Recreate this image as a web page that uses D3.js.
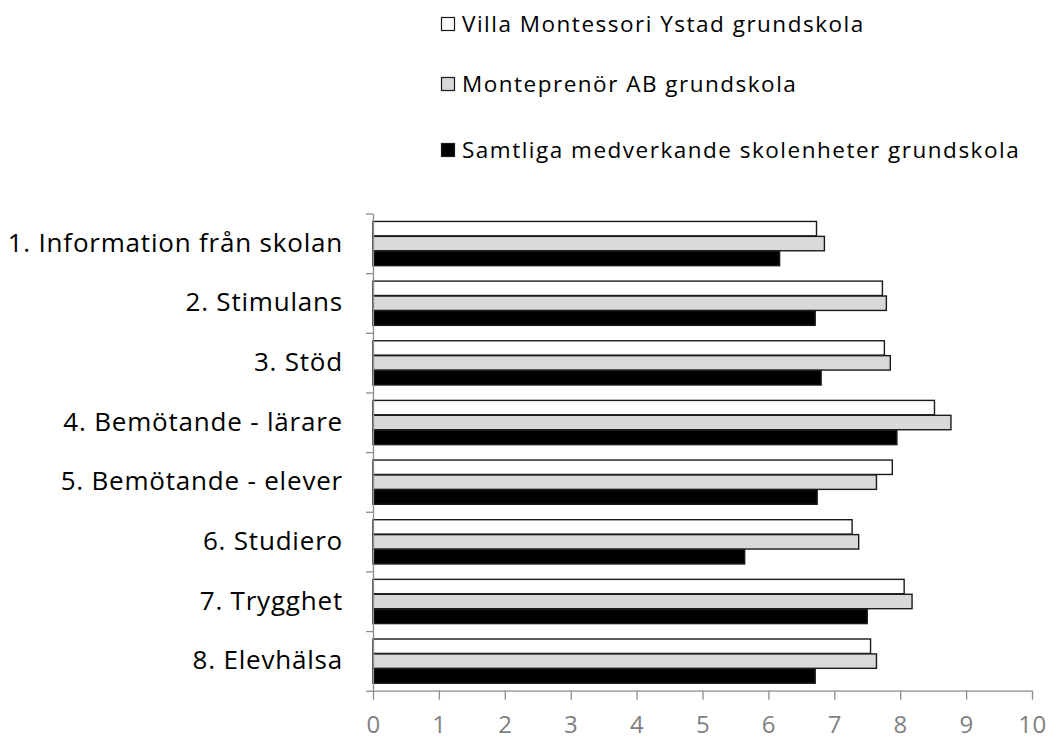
<!DOCTYPE html>
<html>
<head>
<meta charset="utf-8">
<script src="https://cdn.jsdelivr.net/npm/d3@7"></script>
<style>
  body { margin: 0; background: #fff; }
  text { font-family: 'Open Sans', sans-serif; }
</style>
</head>
<body>
<div class="canvas"></div>
<script>
const categories = ['1. Information från skolan', '2. Stimulans', '3. Stöd', '4. Bemötande - lärare',
  '5. Bemötande - elever', '6. Studiero', '7. Trygghet', '8. Elevhälsa']
const seriesNames = ['Villa Montessori Ystad grundskola', 'Monteprenör AB grundskola',
  'Samtliga medverkande skolenheter grundskola']
const villa = [6.73, 7.73, 7.76, 8.52, 7.88, 7.27, 8.06, 7.55]
const monteprenor = [6.85, 7.79, 7.85, 8.77, 7.64, 7.37, 8.18, 7.64]
const samtliga = [6.17, 6.71, 6.80, 7.95, 6.74, 5.64, 7.50, 6.71]
const xTicks = [0, 1, 2, 3, 4, 5, 6, 7, 8, 9, 10]

const seriesValues = [villa, monteprenor, samtliga]
const fills = ['#ffffff', '#d9d9d9', '#000000']
const font = "'Open Sans', sans-serif"

const svg = d3.select('.canvas').append('svg').attr('width', 1061).attr('height', 741)

const margin = {top: 213.5, right: 29, bottom: 50.3, left: 373}
const graphWidth = 1061 - margin.left - margin.right
const graphHeight = 741 - margin.top - margin.bottom

const graph = svg.append('g')
    .attr('transform', `translate(${margin.left}, ${margin.top})`)

const x = d3.scaleLinear()
    .domain([0, 10])
    .range([0, graphWidth])

const y = d3.scaleBand()
    .domain(categories)
    .range([0, graphHeight])
    .paddingInner(0.25)
    .paddingOuter(0.125)

const ySub = d3.scaleBand()
    .domain(d3.range(seriesNames.length))
    .range([0, y.bandwidth()])

const rows = categories.map((c, i) => ({name: c, values: seriesValues.map(s => s[i])}))

const groups = graph.selectAll('g.grp')
    .data(rows)
    .enter()
    .append('g')
        .attr('class', 'grp')
        .attr('transform', d => `translate(0, ${y(d.name)})`)

groups.selectAll('rect')
    .data(d => d.values.map((v, j) => ({v, j})))
    .enter()
    .append('rect')
        .attr('x', 0)
        .attr('y', d => ySub(d.j) + 0.5)
        .attr('height', ySub.bandwidth() - 0.5)
        .attr('width', d => x(d.v))
        .attr('fill', d => fills[d.j])
        .attr('stroke', '#1a1a1a')
        .attr('stroke-width', 1.4)

// x axis
const xAxisGraph = graph.append('g').attr('transform', `translate(0, ${graphHeight})`)
const xAxis = d3.axisBottom(x).tickValues(xTicks).tickSize(9).tickSizeOuter(0).tickPadding(16)
xAxisGraph.call(xAxis)
xAxisGraph.selectAll('line, path').attr('stroke', '#8c8c8c').attr('stroke-width', 1.3)
xAxisGraph.selectAll('text')
    .attr('fill', '#7f7f7f')
    .attr('font-size', 24)
    .attr('letter-spacing', 0.5)
    .attr('font-family', font)

// y axis: line with ticks at category boundaries
const yEdges = d3.scaleLinear().domain([0, categories.length]).range([0, graphHeight])
const yAxisGraph = graph.append('g')
yAxisGraph.call(d3.axisLeft(yEdges).tickValues(d3.range(categories.length + 1)).tickFormat('').tickSize(7).tickSizeOuter(0))
yAxisGraph.selectAll('line, path').attr('stroke', '#8c8c8c').attr('stroke-width', 1.3)

// category labels
const labelAxis = graph.append('g')
labelAxis.call(d3.axisLeft(y).tickSize(0).tickPadding(30))
labelAxis.select('path').remove()
labelAxis.selectAll('text')
    .attr('fill', '#000')
    .attr('font-size', 26)
    .attr('letter-spacing', 0.8)
    .attr('font-family', font)

// legend
const legendY = [24, 84, 150]
const legend = svg.append('g').attr('transform', 'translate(441, 0)')
const items = legend.selectAll('g')
    .data(seriesNames)
    .enter()
    .append('g')
        .attr('transform', (d, i) => `translate(0, ${legendY[i]})`)
items.append('rect')
    .attr('x', 0.5).attr('y', -6.5)
    .attr('width', 13).attr('height', 13)
    .attr('fill', (d, i) => fills[i])
    .attr('stroke', '#1a1a1a')
    .attr('stroke-width', 1.2)
items.append('text')
    .attr('x', 21)
    .attr('dy', '0.35em')
    .attr('font-size', 22.5)
    .attr('letter-spacing', 1.5)
    .attr('font-family', font)
    .text(d => d)
</script>
</body>
</html>
